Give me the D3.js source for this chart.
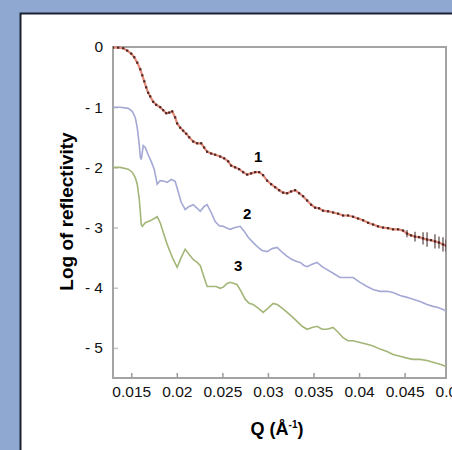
<!DOCTYPE html>
<html>
<head>
<title>Log of reflectivity</title>
<script src="https://d3js.org/d3.v7.min.js"></script>
</head>
<body>
</body>
<style>
body { margin: 0; background: #8fa8d2; }
text { font-family: Arial, "Liberation Sans", sans-serif; }
</style>
<script>

// tick values and labels
var xTicks = [0.015, 0.02, 0.025, 0.03, 0.035, 0.04, 0.045, 0.05];
var xTickLabels = ["0.015", "0.02", "0.025", "0.03", "0.035", "0.04", "0.045", "0.05"];
var yTicks = [0, -1, -2, -3, -4, -5];
var yTickLabels = ["0", "- 1", "- 2", "- 3", "- 4", "- 5"];

// curve 1 : [Q, log R, error]
var series1 = [[0.0130,-0.01,0],[0.01357,-0.01,0],[0.01412,-0.02,0],[0.01456,-0.06,0],[0.0150,-0.11,0],
	[0.01533,-0.17,0],[0.01566,-0.26,0],[0.01599,-0.37,0],[0.01621,-0.47,0],[0.01643,-0.57,0],
	[0.01664,-0.67,0],[0.01686,-0.76,0],[0.01708,-0.82,0],[0.01741,-0.91,0],[0.01774,-0.96,0],
	[0.01818,-1.00,0],[0.01851,-1.05,0],[0.01884,-1.10,0],[0.01917,-1.09,0],[0.0195,-1.07,0],
	[0.01982,-1.17,0],[0.02004,-1.27,0],[0.02037,-1.34,0],[0.0207,-1.39,0],[0.02103,-1.44,0],
	[0.02136,-1.50,0],[0.0218,-1.57,0],[0.02224,-1.60,0],[0.02268,-1.60,0],[0.023,-1.67,0],
	[0.02333,-1.74,0],[0.02377,-1.77,0],[0.02421,-1.79,0],[0.02476,-1.82,0],[0.0252,-1.85,0],
	[0.02564,-1.90,0],[0.02596,-1.97,0],[0.0264,-2.00,0],[0.02684,-2.03,0],[0.02728,-2.08,0],
	[0.02772,-2.12,0],[0.02816,-2.10,0],[0.0286,-2.08,0],[0.02904,-2.08,0],[0.02947,-2.13,0],
	[0.02991,-2.22,0],[0.03035,-2.28,0],[0.03079,-2.33,0],[0.03123,-2.38,0],[0.03167,-2.42,0],
	[0.03211,-2.43,0],[0.03254,-2.40,0],[0.03298,-2.38,0],[0.03342,-2.43,0],[0.03386,-2.48,0],
	[0.0343,-2.55,0],[0.03474,-2.62,0],[0.03518,-2.67,0],[0.03561,-2.68,0],[0.03605,-2.72,0],
	[0.0366,-2.73,0],[0.03715,-2.75,0],[0.0377,-2.77,0],[0.03825,-2.80,0],[0.03879,-2.80,0],
	[0.03934,-2.82,0],[0.03989,-2.85,0],[0.04044,-2.88,0],[0.04099,-2.92,0],[0.04154,-2.95,0],
	[0.04208,-2.98,0],[0.04263,-3.00,0],[0.04318,-3.01,0],[0.04373,-3.03,0],[0.04428,-3.03,0],
	[0.04482,-3.05,0],[0.04526,-3.10,0.06],[0.0457,-3.13,0],[0.04614,-3.15,0.08],[0.04658,-3.16,0],
	[0.04702,-3.18,0.10],[0.04746,-3.20,0.12],[0.04789,-3.21,0],[0.04833,-3.23,0.12],[0.04877,-3.25,0.10],
	[0.04921,-3.28,0.12],[0.04954,-3.30,0.10]];

// curve 2 : [Q, log R]
var series2 = [[0.01303,-1.00],[0.01379,-1.00],[0.01467,-1.02],[0.01511,-1.07],[0.01544,-1.17],
	[0.01566,-1.34],[0.01588,-1.62],[0.01599,-1.82],[0.0161,-1.87],[0.01632,-1.64],
	[0.01654,-1.67],[0.01686,-1.79],[0.01719,-1.90],[0.01752,-2.03],[0.01785,-2.28],
	[0.01818,-2.22],[0.01862,-2.23],[0.01895,-2.25],[0.01939,-2.20],[0.01982,-2.23],
	[0.02015,-2.40],[0.02048,-2.58],[0.02092,-2.70],[0.02136,-2.65],[0.0218,-2.62],
	[0.02224,-2.68],[0.02257,-2.73],[0.023,-2.65],[0.02333,-2.62],[0.02377,-2.75],
	[0.02421,-2.90],[0.02465,-2.97],[0.02509,-2.98],[0.02553,-3.01],[0.02586,-3.03],
	[0.0264,-3.00],[0.02695,-2.98],[0.02739,-3.06],[0.02783,-3.16],[0.02838,-3.25],
	[0.02893,-3.33],[0.02936,-3.38],[0.02991,-3.40],[0.03046,-3.35],[0.03101,-3.33],
	[0.03156,-3.41],[0.03211,-3.48],[0.03265,-3.53],[0.03309,-3.56],[0.03353,-3.58],
	[0.03397,-3.63],[0.0343,-3.65],[0.03485,-3.61],[0.03539,-3.58],[0.03594,-3.65],
	[0.03649,-3.70],[0.03715,-3.76],[0.03792,-3.83],[0.03858,-3.83],[0.03934,-3.83],
	[0.04011,-3.91],[0.04088,-3.98],[0.04154,-4.03],[0.0423,-4.06],[0.04307,-4.06],
	[0.04373,-4.08],[0.0445,-4.13],[0.04526,-4.16],[0.04592,-4.19],[0.04669,-4.23],
	[0.04746,-4.28],[0.04811,-4.31],[0.04866,-4.33],[0.04921,-4.36],[0.04954,-4.39]];

// curve 3 : [Q, log R]
var series3 = [[0.01303,-2.00],[0.01379,-2.00],[0.01467,-2.03],[0.01511,-2.08],[0.01544,-2.17],
	[0.01566,-2.28],[0.01588,-2.53],[0.01599,-2.73],[0.0161,-2.95],[0.01621,-2.98],
	[0.01654,-2.92],[0.01686,-2.90],[0.01719,-2.88],[0.01752,-2.85],[0.01785,-2.82],
	[0.01818,-2.92],[0.01851,-3.08],[0.01895,-3.28],[0.01928,-3.41],[0.01961,-3.53],
	[0.02004,-3.66],[0.02048,-3.50],[0.02092,-3.36],[0.02136,-3.45],[0.0218,-3.53],
	[0.02224,-3.58],[0.02257,-3.63],[0.023,-3.83],[0.02333,-3.98],[0.02377,-3.98],
	[0.02432,-3.98],[0.02476,-4.01],[0.02509,-3.99],[0.02553,-3.93],[0.02586,-3.91],
	[0.02629,-3.93],[0.02662,-3.95],[0.02706,-4.06],[0.0275,-4.19],[0.02794,-4.26],
	[0.02838,-4.28],[0.02893,-4.34],[0.02947,-4.41],[0.03002,-4.34],[0.03057,-4.26],
	[0.03101,-4.28],[0.03156,-4.34],[0.03211,-4.41],[0.03265,-4.48],[0.0332,-4.56],
	[0.03375,-4.64],[0.0343,-4.69],[0.03485,-4.66],[0.03539,-4.64],[0.03594,-4.69],
	[0.03649,-4.69],[0.03715,-4.66],[0.0377,-4.74],[0.03825,-4.83],[0.03879,-4.88],
	[0.03934,-4.88],[0.04011,-4.91],[0.04088,-4.94],[0.04154,-4.97],[0.0423,-5.02],
	[0.04307,-5.06],[0.04373,-5.11],[0.0445,-5.14],[0.04526,-5.17],[0.04592,-5.19],
	[0.04669,-5.19],[0.04746,-5.21],[0.04811,-5.24],[0.04888,-5.27],[0.04921,-5.29],[0.04954,-5.31]];

var curveLabels = ["1", "2", "3"];
var curveLabelAt = [[0.02893, -1.82], [0.02772, -2.77], [0.02673, -3.63]];

var W = 452, H = 450;
var svg = d3.select("body").append("svg").attr("width", W).attr("height", H)
	.style("display", "block");

// white panel
svg.append("rect")
	.attr("x", 20.5).attr("y", 13.5)
	.attr("width", W + 20).attr("height", H + 20)
	.style("fill", "white").style("stroke", "#1c2030").style("stroke-width", 2);

var pLeft = 113, pRight = 446, pTop = 47, pBottom = 378;

var x = d3.scaleLinear().domain([0.013, 0.04954]).range([pLeft, pRight]);
var y = d3.scaleLinear().domain([-5.5, 0]).range([pBottom, pTop]);

svg.append("clipPath").attr("id", "clip")
	.append("rect").attr("x", pLeft).attr("y", pTop - 2)
	.attr("width", pRight - pLeft).attr("height", pBottom - pTop + 2);

// x axis, ticks pointing in
var xAxis = d3.axisBottom(x)
	.tickValues(xTicks)
	.tickSizeInner(-5).tickSizeOuter(0).tickPadding(8)
	.tickFormat(function (d, i) { return xTickLabels[i]; });

var gx = svg.append("g").attr("transform", "translate(0," + pBottom + ")").call(xAxis);
gx.attr("font-family", null);
gx.select(".domain").remove();
gx.selectAll("line").style("stroke", "#9a9a9a").style("stroke-width", 1.5)
	.style("display", function (d) { return d > 0.0496 ? "none" : null; });
gx.selectAll("text").style("font-size", "15.5px").style("fill", "#111");

var yAxis = d3.axisLeft(y)
	.tickValues(yTicks)
	.tickSizeInner(-5).tickSizeOuter(0).tickPadding(10)
	.tickFormat(function (d, i) { return yTickLabels[i]; });

var gy = svg.append("g").attr("transform", "translate(" + pLeft + ",0)").call(yAxis);
gy.attr("font-family", null);
gy.select(".domain").remove();
gy.selectAll("line").style("stroke", "#c4c4c4").style("stroke-width", 1.5);
gy.selectAll("text").style("font-size", "15.5px").style("fill", "#111");

// frame
svg.append("rect")
	.attr("x", pLeft).attr("y", pTop)
	.attr("width", pRight - pLeft).attr("height", pBottom - pTop)
	.style("fill", "none").style("stroke", "#a3a3a3").style("stroke-width", 2);

var line = d3.line()
	.x(function (d) { return x(d[0]); })
	.y(function (d) { return y(d[1]); });

var plot = svg.append("g").attr("clip-path", "url(#clip)");

plot.append("path").datum(series3)
	.attr("d", line)
	.style("fill", "none").style("stroke", "#a3b677").style("stroke-width", 1.6);

plot.append("path").datum(series2)
	.attr("d", line)
	.style("fill", "none").style("stroke", "#a4a8d4").style("stroke-width", 1.6);

plot.append("path").datum(series1)
	.attr("d", line)
	.style("fill", "none").style("stroke", "#e58a78").style("stroke-width", 2.2);

// error bars for curve 1
plot.selectAll(".err").data(series1.filter(function (d) { return d[2] > 0; }))
	.enter().append("line")
	.attr("x1", function (d) { return x(d[0]); })
	.attr("x2", function (d) { return x(d[0]); })
	.attr("y1", function (d) { return y(d[1] - d[2]); })
	.attr("y2", function (d) { return y(d[1] + d[2]); })
	.style("stroke", "#5a4444").style("stroke-width", 1.2);

// markers on curve 1
plot.selectAll(".pt").data(series1)
	.enter().append("rect")
	.attr("x", function (d) { return x(d[0]) - 1.1; })
	.attr("y", function (d) { return y(d[1]) - 1.1; })
	.attr("width", 2.2).attr("height", 2.2)
	.style("fill", "#4a2626");

// curve numbers
svg.selectAll(".lbl").data(curveLabels)
	.enter().append("text")
	.attr("x", function (d, i) { return x(curveLabelAt[i][0]); })
	.attr("y", function (d, i) { return y(curveLabelAt[i][1]); })
	.attr("text-anchor", "middle").attr("dy", "0.36em")
	.style("font-size", "15px").style("font-weight", "bold")
	.text(function (d) { return d; });

// axis titles
svg.append("text")
	.attr("transform", "translate(73," + ((pTop + pBottom) / 2 - 1) + ") rotate(-90)")
	.attr("text-anchor", "middle")
	.style("font-size", "19px").style("font-weight", "bold")
	.text("Log of reflectivity");

var xt = svg.append("text")
	.attr("x", 277).attr("y", 435)
	.attr("text-anchor", "middle")
	.style("font-size", "18px").style("font-weight", "bold");
xt.append("tspan").text("Q (Å");
xt.append("tspan").attr("dy", -7).style("font-size", "10px").text("-1");
xt.append("tspan").attr("dy", 7).text(")");

</script>
</html>
